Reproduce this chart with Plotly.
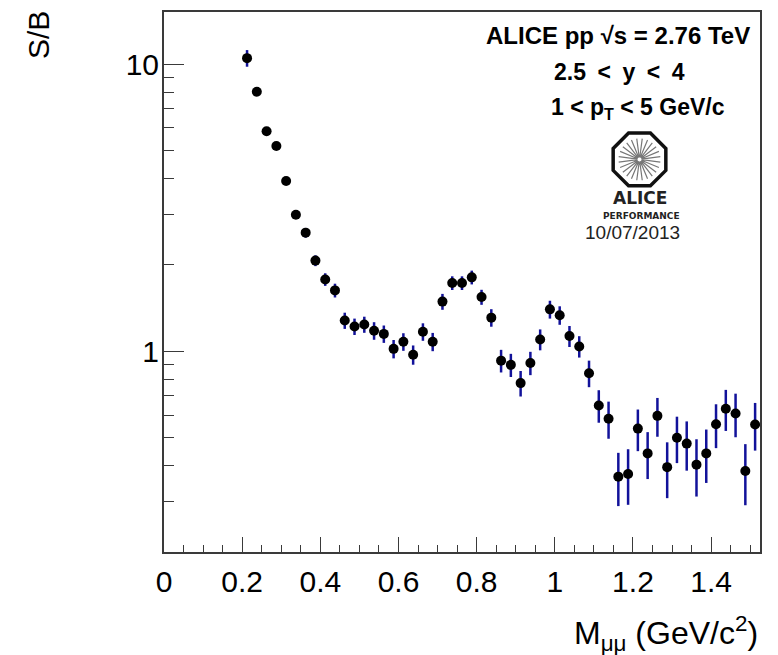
import math
import plotly.graph_objects as go

# ---------------- data ----------------
mass = [0.2125, 0.2375, 0.2625, 0.2875, 0.3125, 0.3375, 0.3625, 0.3875, 0.4125, 0.4375,
        0.4625, 0.4875, 0.5125, 0.5375, 0.5625, 0.5875, 0.6125, 0.6375, 0.6625, 0.6875,
        0.7125, 0.7375, 0.7625, 0.7875, 0.8125, 0.8375, 0.8625, 0.8875, 0.9125, 0.9375,
        0.9625, 0.9875, 1.0125, 1.0375, 1.0625, 1.0875, 1.1125, 1.1375, 1.1625, 1.1875,
        1.2125, 1.2375, 1.2625, 1.2875, 1.3125, 1.3375, 1.3625, 1.3875, 1.4125, 1.4375,
        1.4625, 1.4875, 1.5125]
s_over_b = [10.5, 8.02, 5.84, 5.19, 3.92, 2.99, 2.59, 2.07, 1.78, 1.63,
            1.28, 1.22, 1.24, 1.18, 1.15, 1.02, 1.08, 0.973, 1.17, 1.08,
            1.49, 1.73, 1.73, 1.81, 1.545, 1.31, 0.928, 0.897, 0.775, 0.911,
            1.10, 1.40, 1.336, 1.13, 1.04, 0.839, 0.648, 0.582, 0.366, 0.374,
            0.538, 0.441, 0.596, 0.395, 0.500, 0.477, 0.403, 0.441, 0.557, 0.631,
            0.607, 0.383, 0.556]
s_over_b_err = [0.70, 0.20, 0.15, 0.13, 0.10, 0.09, 0.10, 0.09, 0.09, 0.09,
                0.083, 0.08, 0.08, 0.083, 0.08, 0.075, 0.076, 0.075, 0.082, 0.079,
                0.095, 0.095, 0.095, 0.10, 0.093, 0.092, 0.084, 0.083, 0.079, 0.085,
                0.092, 0.10, 0.099, 0.095, 0.089, 0.089, 0.084, 0.086, 0.077, 0.082,
                0.089, 0.082, 0.092, 0.087, 0.092, 0.093, 0.091, 0.093, 0.097, 0.103,
                0.105, 0.092, 0.105]

x_range = [0.0, 1.525]
y_range = [0.2, 15.2]
x_tick_vals = [0, 0.2, 0.4, 0.6, 0.8, 1.0, 1.2, 1.4]
x_tick_text = ["0", "0.2", "0.4", "0.6", "0.8", "1", "1.2", "1.4"]
y_major_ticks = [1, 10]
y_major_text = ["1", "10"]
y_minor_ticks = [0.2, 0.3, 0.4, 0.5, 0.6, 0.7, 0.8, 0.9, 2, 3, 4, 5, 6, 7, 8, 9]

# ---------------- layout geometry ----------------
W_PX, H_PX = 778, 655
L, R, T, B = 164, 760, 10, 552
PW, PH = R - L, B - T


def px(xp):
    return (xp - L) / PW


def py(yp):
    return (B - yp) / PH


FONT = "Liberation Sans, Arial, Helvetica, sans-serif"
AXC = "#3a3a3a"
ES = "\u2002"  # en space (ROOT-like wider spacing)

fig = go.Figure()
fig.add_trace(go.Scatter(
    x=mass, y=s_over_b, mode="markers",
    marker=dict(color="black", size=10, symbol="circle"),
    error_y=dict(type="data", array=s_over_b_err, visible=True,
                 color="#12129a", thickness=2.5, width=0),
    showlegend=False,
))
# invisible trace on the overlay axis so it is drawn
fig.add_trace(go.Scatter(x=[mass[0]], y=[s_over_b[0]], yaxis="y2",
                         mode="markers", marker=dict(opacity=0),
                         showlegend=False, hoverinfo="skip"))

ylog = [math.log10(y_range[0]), math.log10(y_range[1])]

fig.update_layout(
    width=W_PX, height=H_PX,
    margin=dict(l=L, r=W_PX - R, t=T, b=H_PX - B, pad=0),
    paper_bgcolor="white", plot_bgcolor="white",
    font=dict(family=FONT, color="black"),
    xaxis=dict(
        range=x_range, showgrid=False, zeroline=False,
        showline=True, linecolor=AXC, linewidth=1.6, mirror=True,
        tickmode="array", tickvals=x_tick_vals, ticktext=x_tick_text,
        ticks="inside", ticklen=15, tickwidth=1.3, tickcolor=AXC,
        tickfont=dict(size=30, family=FONT, color="black"),
        ticklabelstandoff=2,
        minor=dict(dtick=0.05, tick0=0, ticks="inside", ticklen=7,
                   tickwidth=1.3, tickcolor=AXC, showgrid=False),
    ),
    yaxis=dict(
        type="log", range=ylog, showgrid=False, zeroline=False,
        showline=True, linecolor=AXC, linewidth=1.6, mirror=True,
        tickmode="array", tickvals=y_minor_ticks,
        ticks="inside", ticklen=10, tickwidth=1.3, tickcolor=AXC,
        showticklabels=False,
    ),
    yaxis2=dict(
        type="log", range=ylog, overlaying="y", side="left",
        showgrid=False, zeroline=False, showline=False,
        tickmode="array", tickvals=y_major_ticks, ticktext=y_major_text,
        ticks="inside", ticklen=20, tickwidth=1.3, tickcolor=AXC,
        tickfont=dict(size=30, family=FONT, color="black"),
        ticklabelstandoff=4,
    ),
)

ann = []
# axis titles
ann.append(dict(text="M<sub>μμ</sub> (GeV/c<sup>2</sup>)", xref="paper", yref="paper",
                x=px(760), y=py(634), xanchor="right", yanchor="middle",
                showarrow=False, font=dict(size=32, family=FONT)))
ann.append(dict(text="S/B", xref="paper", yref="paper", textangle=-90,
                x=px(38), y=py(7), xanchor="center", yanchor="top",
                showarrow=False, font=dict(size=30, family=FONT)))
# info text
ann.append(dict(text="<b>ALICE pp √s = 2.76 TeV</b>", xref="paper", yref="paper",
                x=px(618), y=py(34), xanchor="center", yanchor="middle",
                showarrow=False, font=dict(size=24, family=FONT)))
ann.append(dict(text=f"<b>2.5{ES}&lt;{ES}y{ES}&lt;{ES}4</b>", xref="paper", yref="paper",
                x=px(619), y=py(70), xanchor="center", yanchor="middle",
                showarrow=False, font=dict(size=23, family=FONT)))
ann.append(dict(text="<b>1 &lt; p<sub>T</sub> &lt; 5 GeV/c</b>", xref="paper", yref="paper",
                x=px(638), y=py(107), xanchor="center", yanchor="middle",
                showarrow=False, font=dict(size=23, family=FONT)))
# logo texts
ann.append(dict(text="<b>ALICE</b>", xref="paper", yref="paper",
                x=px(640), y=py(197), xanchor="center", yanchor="middle",
                showarrow=False, font=dict(size=17, family="DejaVu Sans", color="#222")))
ann.append(dict(text="<b>PERFORMANCE</b>", xref="paper", yref="paper",
                x=px(641), y=py(214.5), xanchor="center", yanchor="middle",
                showarrow=False, font=dict(size=9, family="DejaVu Sans", color="#222")))
ann.append(dict(text="10/07/2013", xref="paper", yref="paper",
                x=px(632), y=py(231), xanchor="center", yanchor="middle",
                showarrow=False, font=dict(size=19, family=FONT, color="#222")))
fig.update_layout(annotations=ann)

# ALICE logo: octagon + starburst (decorative, pixel-sized shapes anchored in paper coords)
cx, cy = px(639.5), py(158)
Rv = 28.5
oct_pts = []
for k in range(8):
    a = math.radians(22.5 + 45 * k)
    oct_pts.append((Rv * math.cos(a), Rv * math.sin(a)))
path = "M " + " L ".join(f"{x:.2f},{y:.2f}" for x, y in oct_pts) + " Z"
shapes = [dict(type="path", path=path, xref="paper", yref="paper",
               xsizemode="pixel", ysizemode="pixel", xanchor=cx, yanchor=cy,
               line=dict(color="#111", width=3.5), fillcolor="white", layer="above")]
ray_parts = []
for k in range(24):
    a = math.radians(15 * k + 7.5)
    ray_parts.append(f"M {2*math.cos(a):.2f},{2*math.sin(a):.2f} L {21*math.cos(a):.2f},{21*math.sin(a):.2f}")
shapes.append(dict(type="path", path=" ".join(ray_parts), xref="paper", yref="paper",
                   xsizemode="pixel", ysizemode="pixel", xanchor=cx, yanchor=cy,
                   line=dict(color="#777", width=1.2), layer="above"))
fig.update_layout(shapes=shapes)

fig.write_html("out.html")
